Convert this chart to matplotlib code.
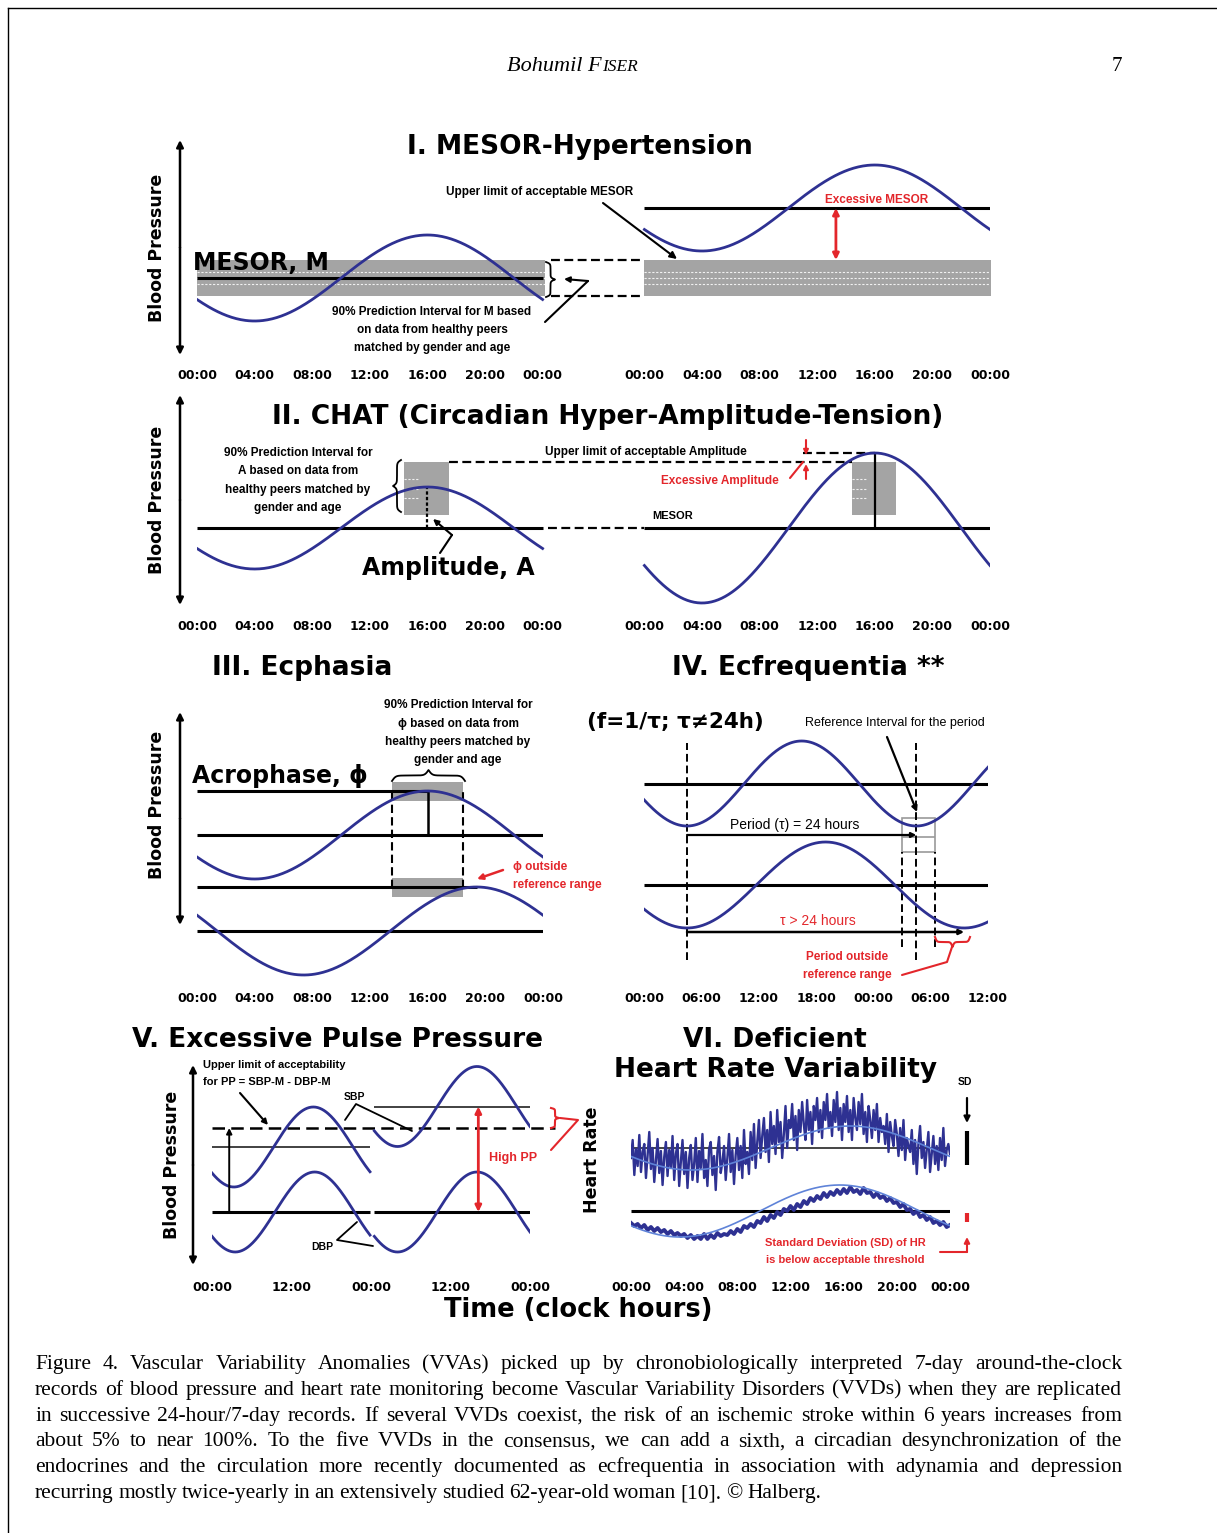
import numpy as np
import matplotlib.pyplot as plt
from matplotlib.patches import Rectangle

# ---------------- data (BP / HR in arbitrary units, time in hours) ----------------
# cosinor parameters: (mesor, amplitude, acrophase, period)
MESOR_NORMAL = (82, 43, 16.0, 24)
MESOR_HIGH = (152, 43, 16.0, 24)
MESOR_PI = (64, 100)

CHAT_NORMAL = (82, 41, 16.0, 24)
CHAT_HIGH = (82, 75, 16.0, 24)
AMP_PI = (13, 66)
AMP_PI_HOURS = (14.4, 17.5)

ECPH_NORMAL = (150, 44, 16.0, 24)
ECPH_LATE = (54, 44, 19.4, 24)
ACRO_PI = (13.5, 18.45)

ECFREQ_24 = (201.5, 42.5, 16.5, 24)
ECFREQ_LONG = (100, 43, 19.0, 29)
ECFREQ_TROUGH = 4.5
PERIOD_REF = (22.5, 26.0)

SBP_DAY1 = (123, 40, 15.3, 24)
SBP_DAY2 = (163.5, 40, 16.0, 24)
DBP_DAY1 = (58, 40, 15.5, 24)
DBP_DAY2 = (58, 40, 16.0, 24)
PP_LIMIT = 84

HR_FIT_HIGH = (122, 22, 16.5, 24)
HR_FIT_LOW = (59, 26, 15.7, 24)
HR_SD = (17, 4.5)
# heart rate, 8 readings per hour, 00:00 to 24:00
hr_high = [112, 130, 95, 121, 104, 135, 98, 118,
           126, 92, 115, 138, 101, 122, 88, 110,
           131, 97, 119, 85, 113, 128, 94, 120,
           102, 134, 90, 116, 126, 84, 108, 130,
           96, 118, 82, 112, 125, 90, 106, 132,
           88, 119, 102, 136, 92, 110, 84, 121,
           128, 95, 114, 80, 118, 133, 97, 108,
           124, 90, 112, 136, 98, 120, 86, 115,
           132, 100, 124, 92, 140, 106, 118, 96,
           138, 110, 146, 102, 128, 150, 112, 134,
           152, 118, 140, 108, 158, 126, 144, 116,
           160, 128, 148, 112, 136, 164, 122, 150,
           142, 166, 130, 154, 120, 160, 138, 168,
           146, 130, 170, 140, 158, 126, 164, 150,
           172, 138, 160, 132, 168, 150, 176, 142,
           158, 134, 170, 148, 178, 140, 162, 130,
           166, 148, 174, 138, 160, 130, 172, 152,
           140, 168, 146, 176, 136, 158, 128, 164,
           150, 132, 160, 140, 166, 128, 152, 138,
           144, 126, 156, 118, 148, 134, 124, 150,
           136, 114, 142, 120, 150, 110, 132, 124,
           118, 140, 106, 130, 96, 126, 144, 112,
           128, 102, 120, 138, 98, 116, 134, 106,
           124, 100, 132, 110, 142, 104, 120, 126,
           116]
# 4 readings per hour
hr_low = [47, 44, 46, 42, 45, 40, 43, 39, 42, 38, 40, 36, 39, 35, 37, 34,
          36, 32, 35, 31, 34, 31, 36, 31, 35, 32, 37, 34, 36, 35, 39, 36,
          41, 38, 44, 42, 46, 43, 49, 47, 53, 49, 55, 52, 58, 55, 61, 59,
          64, 60, 66, 63, 69, 66, 72, 69, 74, 71, 77, 73, 78, 75, 80, 76,
          81, 77, 83, 78, 80, 76, 82, 77, 78, 73, 77, 72, 74, 69, 72, 67,
          68, 63, 66, 60, 61, 56, 59, 53, 55, 50, 53, 47, 49, 45, 48, 43, 45]

DAY_TICKS = ["00:00", "04:00", "08:00", "12:00", "16:00", "20:00", "00:00"]
IV_TICKS = ["00:00", "06:00", "12:00", "18:00", "00:00", "06:00", "12:00"]
V_TICKS = ["00:00", "12:00", "00:00", "12:00", "00:00"]

CAPTION = [
    "Figure 4. Vascular Variability Anomalies (VVAs) picked up by chronobiologically interpreted 7-day around-the-clock",
    "records of blood pressure and heart rate monitoring become Vascular Variability Disorders (VVDs) when they are replicated",
    "in successive 24-hour/7-day records. If several VVDs coexist, the risk of an ischemic stroke within 6 years increases from",
    "about 5% to near 100%. To the five VVDs in the consensus, we can add a sixth, a circadian desynchronization of the",
    "endocrines and the circulation more recently documented as ecfrequentia in association with adynamia and depression",
    "recurring mostly twice-yearly in an extensively studied 62-year-old woman [10]. \u00a9 Halberg.",
]

BLUE = '#2e3192'
GRAY = '#a4a4a4'
RED = '#e3262b'
DASH = (0, (4, 2))
BOLD = 'DejaVu Sans'
SMALL = 'Liberation Sans'

W, H = 1217, 1533
fig = plt.figure(figsize=(W / 100, H / 100), dpi=100)
page = fig.add_axes([0, 0, 1, 1])
page.set_xlim(0, W)
page.set_ylim(H, 0)
page.axis('off')
page.set_zorder(10)
page.patch.set_alpha(0)


def panel(x0, x1, y0, y1, xmax, ticks, labels, pad):
    ax = fig.add_axes([x0 / W, 1 - y1 / H, (x1 - x0) / W, (y1 - y0) / H])
    ax.set_xlim(0, xmax)
    ax.set_ylim(0, y1 - y0)
    for s in ax.spines.values():
        s.set_visible(False)
    ax.set_yticks([])
    ax.set_xticks(ticks)
    ax.set_xticklabels(labels, fontsize=9, fontweight='bold', family=BOLD)
    ax.tick_params(axis='x', length=0, pad=pad)
    ax.patch.set_alpha(0)
    return ax


def cosinor(ax, p, t0, t1, offset=0, **kw):
    m, a, phi, tau = p
    t = np.linspace(t0, t1, 300)
    kw.setdefault('color', BLUE)
    kw.setdefault('lw', 2)
    ax.plot(t + offset, m + a * np.cos(2 * np.pi * (t - phi) / tau), **kw)


def arrow(tail, tip, ax=None, color='k', lw=1.5, ms=10, style='-|>'):
    (ax or page).annotate('', xy=tip, xytext=tail, annotation_clip=False,
                          arrowprops=dict(arrowstyle=style, color=color, lw=lw,
                                          mutation_scale=ms, shrinkA=0, shrinkB=0))


def line(pts, color='k', lw=1.5):
    pts = np.array(pts, float)
    page.plot(pts[:, 0], pts[:, 1], color=color, lw=lw, solid_capstyle='round')


def brace(p0, p1, depth, color='k', lw=1.3):
    p0, p1 = np.array(p0, float), np.array(p1, float)
    d = p1 - p0
    n = np.array([d[1], -d[0]]) / np.hypot(*d)
    s = np.linspace(0, 1, 201)
    sh = np.where(s <= 0.5, s, 1 - s)
    sig = lambda z: 1 / (1 + np.exp(-z))
    h = sig(40 * sh) + sig(40 * (sh - 0.5)) - 0.5
    pts = p0[None] + s[:, None] * d[None] + (h * depth)[:, None] * n[None]
    page.plot(pts[:, 0], pts[:, 1], color=color, lw=lw)


def txt(x, y, s, size=9, color='k', family=SMALL, weight='bold', ha='center', **kw):
    return page.text(x, y, s, fontsize=size, color=color, family=family, fontweight=weight,
                     ha=ha, va='center', **kw)


def band_texture(ax, x0, x1, lo, hi):
    for f in (0.32, 0.5, 0.68):
        ax.hlines(lo + f * (hi - lo), x0, x1, colors='white', lw=0.8,
                  linestyles=(0, (2, 1.5)), alpha=0.85, zorder=1.5)


# ---------------- page furniture ----------------
page.plot([8, W], [8, 8], color='k', lw=1)
page.plot([8, 8], [8, H], color='k', lw=1)
r = fig.canvas.get_renderer()
t1 = page.text(507, 71, "Bohumil F", fontsize=16, family='Liberation Serif',
               style='italic', va='baseline')
w1 = t1.get_window_extent(r).width
page.text(507 + w1, 71, "ISER", fontsize=12.5, family='Liberation Serif',
          style='italic', va='baseline')
page.text(1117, 71, "7", fontsize=15, family='Liberation Serif', va='baseline', ha='center')

for x, y, s in [(580, 147, "I. MESOR-Hypertension"),
                (608, 417, "II. CHAT (Circadian Hyper-Amplitude-Tension)"),
                (302, 668, "III. Ecphasia"),
                (808, 668, "IV. Ecfrequentia **"),
                (337, 1040, "V. Excessive Pulse Pressure"),
                (775, 1040, "VI. Deficient"),
                (776, 1070, "Heart Rate Variability")]:
    txt(x, y, s, size=19, family=BOLD)
txt(578, 1310, "Time (clock hours)", size=18.5, family=BOLD)

for x, y0, y1 in [(180, 140, 355), (180, 395, 605), (180, 712, 925), (193, 1065, 1265)]:
    arrow((x, (y0 + y1) / 2), (x, y0), lw=1.8)
    arrow((x, (y0 + y1) / 2), (x, y1), lw=1.8)
for x, y in [(157, 248), (157, 500), (157, 805), (172, 1165)]:
    txt(x, y, "Blood Pressure", size=12.5, family=BOLD, rotation=90)
txt(592, 1160, "Heart Rate", size=12.5, family=BOLD, rotation=90)

# ---------------- I. MESOR-Hypertension ----------------
DAY2 = 31.07
ticks12 = list(range(0, 25, 4)) + [DAY2 + h for h in range(0, 25, 4)]
ax1 = panel(197, 990, 135, 360, 55, ticks12, DAY_TICKS * 2, 6.5)
for off in (0, DAY2):
    ax1.fill_between([off, off + 24.2], *MESOR_PI, color=GRAY, lw=0, zorder=1)
    band_texture(ax1, off, off + 24.2, *MESOR_PI)
ax1.hlines(MESOR_NORMAL[0], 0, 24, colors='k', lw=2.2, zorder=2)
ax1.hlines(MESOR_HIGH[0], DAY2, DAY2 + 24, colors='k', lw=2.2, zorder=2)
cosinor(ax1, MESOR_NORMAL, 0, 24, zorder=3)
cosinor(ax1, MESOR_HIGH, 0, 24, offset=DAY2, zorder=3)
ax1.hlines(MESOR_PI, 24.6, DAY2, colors='k', lw=1.6, linestyles=DASH, clip_on=False)
arrow((DAY2 + 13.3, MESOR_PI[1]), (DAY2 + 13.3, MESOR_HIGH[0]), ax=ax1,
      color=RED, lw=2, ms=9, style='<|-|>')

txt(193, 263, "MESOR, M", size=17, family=BOLD, ha='left')
txt(540, 192, "Upper limit of acceptable MESOR", size=8.5)
arrow((603, 203), (677, 259))
for i, s in enumerate(["90% Prediction Interval for M based", "on data from healthy peers",
                       "matched by gender and age"]):
    txt(432, 312 + 18 * i, s, size=8.5)
brace((546, 262), (546, 297), 9)
line([(545, 322), (588, 281)])
arrow((588, 281), (564, 279), ms=8)
txt(877, 200, "Excessive MESOR", size=8.5, color=RED)

# ---------------- II. CHAT ----------------
ax2 = panel(197, 990, 395, 610, 55, ticks12, DAY_TICKS * 2, 7.2)
for off, p, ls in [(0, CHAT_NORMAL, (0, (1.5, 1))), (DAY2, CHAT_HIGH, '-')]:
    m = p[0]
    ax2.add_patch(Rectangle((off + AMP_PI_HOURS[0], m + AMP_PI[0]),
                            AMP_PI_HOURS[1] - AMP_PI_HOURS[0], AMP_PI[1] - AMP_PI[0],
                            color=GRAY, lw=0, zorder=1))
    band_texture(ax2, off + AMP_PI_HOURS[0], off + AMP_PI_HOURS[0] + 1, m + AMP_PI[0], m + AMP_PI[1])
    ax2.hlines(m, off, off + 24, colors='k', lw=2.2, zorder=2)
    ax2.vlines(off + p[2], m, m + p[1], colors='k', lw=1.6, linestyles=ls, zorder=2)
    cosinor(ax2, p, 0, 24, offset=off, zorder=3)
ax2.hlines(CHAT_NORMAL[0], 24.4, DAY2, colors='k', lw=1.6, linestyles=DASH)
ax2.hlines(CHAT_NORMAL[0] + AMP_PI[1], AMP_PI_HOURS[1], DAY2 + AMP_PI_HOURS[0],
           colors='k', lw=1.6, linestyles=DASH)
ax2.hlines(CHAT_HIGH[0] + CHAT_HIGH[1], DAY2 + 11.0, DAY2 + CHAT_HIGH[2],
           colors='k', lw=1.6, linestyles=DASH)

for i, s in enumerate(["90% Prediction Interval for", "A based on data from",
                       "healthy peers matched by", "gender and age"]):
    txt(298, 453 + 18.5 * i, s, size=8.5)
brace((401, 460), (401, 512), -8)
txt(448, 568, "Amplitude, A", size=17, family=BOLD)
arrow((452, 535), (433, 519), ms=8)
line([(452, 535), (440, 553)])
txt(646, 452, "Upper limit of acceptable Amplitude", size=8.5)
txt(652, 516, "MESOR", size=8, ha='left')
arrow((806, 440), (806, 455), color=RED, lw=1.5, ms=7)
arrow((806, 479), (806, 464), color=RED, lw=1.5, ms=7)
line([(790, 478), (803, 462)], color=RED, lw=1.5)
txt(720, 481, "Excessive Amplitude", size=8.5, color=RED)

# ---------------- III. Ecphasia ----------------
ax3 = panel(197, 543, 700, 985, 24, range(0, 25, 4), DAY_TICKS, 5.2)
pk1 = ECPH_NORMAL[0] + ECPH_NORMAL[1]
pk2 = ECPH_LATE[0] + ECPH_LATE[1]
for pk in (pk1, pk2):
    ax3.add_patch(Rectangle((ACRO_PI[0], pk - 10), ACRO_PI[1] - ACRO_PI[0], 19,
                            color=GRAY, lw=0, zorder=1))
ax3.hlines(pk1, 0, ECPH_NORMAL[2], colors='k', lw=2.2, zorder=2)
ax3.hlines(ECPH_NORMAL[0], 0, 24, colors='k', lw=2.2, zorder=2)
ax3.hlines(pk2, 0, ECPH_LATE[2], colors='k', lw=2.2, zorder=2)
ax3.hlines(ECPH_LATE[0], 0, 24, colors='k', lw=2.2, zorder=2)
ax3.vlines(ACRO_PI, pk2 - 1, pk1 + 2, colors='k', lw=1.5, linestyles=DASH, zorder=2)
ax3.vlines(ECPH_NORMAL[2], ECPH_NORMAL[0], pk1, colors='k', lw=1.8, zorder=2)
cosinor(ax3, ECPH_NORMAL, 0, 24, zorder=3)
cosinor(ax3, ECPH_LATE, 0, 24, zorder=3)

txt(192, 776, "Acrophase, \u03d5", size=17, family=BOLD, ha='left')
for i, s in enumerate(["90% Prediction Interval for", "\u03d5 based on data from",
                       "healthy peers matched by", "gender and age"]):
    txt(458, 705 + 18.5 * i, s, size=8.5)
brace((392, 781), (465, 781), 11)
arrow((503, 870), (477, 879), color=RED, lw=1.8, ms=8)
txt(513, 867, "\u03d5 outside", size=8.5, color=RED, ha='left')
txt(513, 885, "reference range", size=8.5, color=RED, ha='left')

# ---------------- IV. Ecfrequentia ----------------
ax4 = panel(644, 988, 700, 985, 36, range(0, 37, 6), IV_TICKS, 5.2)
tr24 = ECFREQ_24[0] - ECFREQ_24[1]
trl = ECFREQ_LONG[0] - ECFREQ_LONG[1]
ax4.hlines([ECFREQ_24[0], ECFREQ_LONG[0]], 0, 36, colors='k', lw=2.2, zorder=2)
ax4.add_patch(Rectangle((ECFREQ_TROUGH + PERIOD_REF[0], tr24 - 26), PERIOD_REF[1] - PERIOD_REF[0], 34,
                        fill=False, ec='#9a9a9a', lw=1.2, zorder=2))
ax4.hlines(tr24 - 11, ECFREQ_TROUGH + PERIOD_REF[0], ECFREQ_TROUGH + PERIOD_REF[1],
           colors='#9a9a9a', lw=1.2)
ax4.vlines([ECFREQ_TROUGH, ECFREQ_TROUGH + 24], 25, 242, colors='k', lw=1.4,
           linestyles=DASH, zorder=2)
ax4.vlines([ECFREQ_TROUGH + v for v in PERIOD_REF], 38, tr24 - 26, colors='k', lw=1.4,
           linestyles=DASH, zorder=2)
arrow((ECFREQ_TROUGH, tr24 - 9), (ECFREQ_TROUGH + 24, tr24 - 9), ax=ax4, lw=1.6, ms=7)
arrow((ECFREQ_TROUGH, trl - 4), (ECFREQ_TROUGH + ECFREQ_LONG[3], trl - 4), ax=ax4, lw=1.8, ms=7)
cosinor(ax4, ECFREQ_24, 0, 36, zorder=3)
cosinor(ax4, ECFREQ_LONG, 0, 36, zorder=3)

txt(675, 722, "(f=1/\u03c4; \u03c4\u226024h)", size=15.5, family=BOLD)
txt(895, 723, "Reference Interval for the period", size=9, weight='normal')
arrow((887, 737), (917, 812), lw=1.6, ms=8)
txt(795, 825, "Period (\u03c4) = 24 hours", size=10, weight='normal')
txt(818, 921, "\u03c4 > 24 hours", size=10, weight='normal', color=RED)
brace((935, 937), (970, 937), -10, color=RED, lw=1.5)
line([(952, 947), (947, 962), (902, 975)], color=RED, lw=1.5)
txt(847, 957, "Period outside", size=8.5, color=RED)
txt(847, 975, "reference range", size=8.5, color=RED)

# ---------------- V. Excessive Pulse Pressure ----------------
ax5 = panel(212, 530, 1055, 1270, 48, range(0, 49, 12), V_TICKS, 8)
d1, d2 = (0, 23.85), (24.5, 48)
ax5.hlines(SBP_DAY1[0], *d1, colors='#333333', lw=1.3, zorder=2)
ax5.hlines(SBP_DAY2[0], *d2, colors='#333333', lw=1.3, zorder=2)
ax5.hlines(DBP_DAY1[0], *d1, colors='k', lw=2.2, zorder=2)
ax5.hlines(DBP_DAY2[0], *d2, colors='k', lw=2.2, zorder=2)
ax5.hlines(DBP_DAY1[0] + PP_LIMIT, 0, 51.8, colors='k', lw=1.8,
           linestyles=(0, (5, 2.5)), clip_on=False, zorder=2)
cosinor(ax5, SBP_DAY1, *d1, zorder=3)
cosinor(ax5, DBP_DAY1, *d1, zorder=3)
cosinor(ax5, SBP_DAY2, *d2, zorder=3)
cosinor(ax5, DBP_DAY2, *d2, zorder=3)
arrow((2.6, DBP_DAY1[0]), (2.6, DBP_DAY1[0] + PP_LIMIT), ax=ax5, lw=1.4, ms=8)
arrow((40.2, DBP_DAY2[0]), (40.2, SBP_DAY2[0]), ax=ax5, color=RED, lw=2, ms=9, style='<|-|>')

txt(203, 1065, "Upper limit of acceptability", size=8, ha='left')
txt(203, 1082, "for PP = SBP-M - DBP-M", size=8, ha='left')
arrow((240, 1093), (268, 1125), lw=1.5, ms=8)
txt(354, 1097, "SBP", size=7.5)
line([(345, 1120), (356, 1104), (412, 1131)], lw=1.3)
txt(322, 1247, "DBP", size=7.5)
line([(357, 1222), (337, 1240), (373, 1246)], lw=1.3)
txt(513, 1158, "High PP", size=9, color=RED)
brace((551, 1108), (551, 1128), 8, color=RED, lw=1.5)
line([(560, 1118), (578, 1120), (551, 1150)], color=RED, lw=1.5)

# ---------------- VI. Deficient HRV ----------------
ax6 = panel(631, 950, 1055, 1270, 24, range(0, 25, 4), DAY_TICKS, 8)
t_hi = np.linspace(0, 24, len(hr_high))
t_lo = np.linspace(0, 24, len(hr_low))
ax6.hlines(HR_FIT_HIGH[0], 0, 24.2, colors='#444444', lw=1.4, zorder=2)
ax6.hlines(HR_FIT_LOW[0], 0, 24.2, colors='k', lw=2.2, zorder=2)
ax6.plot(t_hi, hr_high, color=BLUE, lw=1.7, zorder=3)
ax6.plot(t_lo, hr_low, color=BLUE, lw=2.8, zorder=3)
cosinor(ax6, HR_FIT_HIGH, 0, 24, color='#5f83d8', lw=1.2, zorder=4)
cosinor(ax6, HR_FIT_LOW, 0, 24, color='#5f83d8', lw=1.2, zorder=4)
ax6.vlines(25.3, HR_FIT_HIGH[0] - HR_SD[0], HR_FIT_HIGH[0] + HR_SD[0], colors='k',
           lw=3, clip_on=False)
ax6.vlines(25.3, HR_FIT_LOW[0] - 6 - HR_SD[1], HR_FIT_LOW[0] - 6 + HR_SD[1], colors=RED,
           lw=3, clip_on=False)

txt(965, 1082, "SD", size=7.5)
arrow((967, 1098), (967, 1123), lw=1.6, ms=9)
txt(845, 1243, "Standard Deviation (SD) of HR", size=8, color=RED)
txt(845, 1260, "is below acceptable threshold", size=8, color=RED)
line([(940, 1252), (967, 1252)], color=RED, lw=1.5)
arrow((967, 1252), (967, 1237), color=RED, lw=1.5, ms=8)

# ---------------- caption (justified) ----------------
CAP_X0, CAP_W = 35, 1087
cap_fs = 15.5
while True:
    probe = [page.text(0, 0, s, fontsize=cap_fs, family='Liberation Serif') for s in CAPTION]
    widest = max(p.get_window_extent(r).width for p in probe)
    for p in probe:
        p.remove()
    if widest <= CAP_W - 15 or cap_fs < 11:
        break
    cap_fs -= 0.25

for i, s in enumerate(CAPTION):
    words = s.split()
    y = 1369 + i * 25.8
    ts = [page.text(0, y, w, fontsize=cap_fs, family='Liberation Serif', va='baseline')
          for w in words]
    widths = [t.get_window_extent(r).width for t in ts]
    gap = (CAP_W - sum(widths)) / (len(words) - 1) if i < len(CAPTION) - 1 else 4.5
    x = CAP_X0
    for t, w in zip(ts, widths):
        t.set_x(x)
        x += w + gap

fig.savefig('out.png', dpi=100)
